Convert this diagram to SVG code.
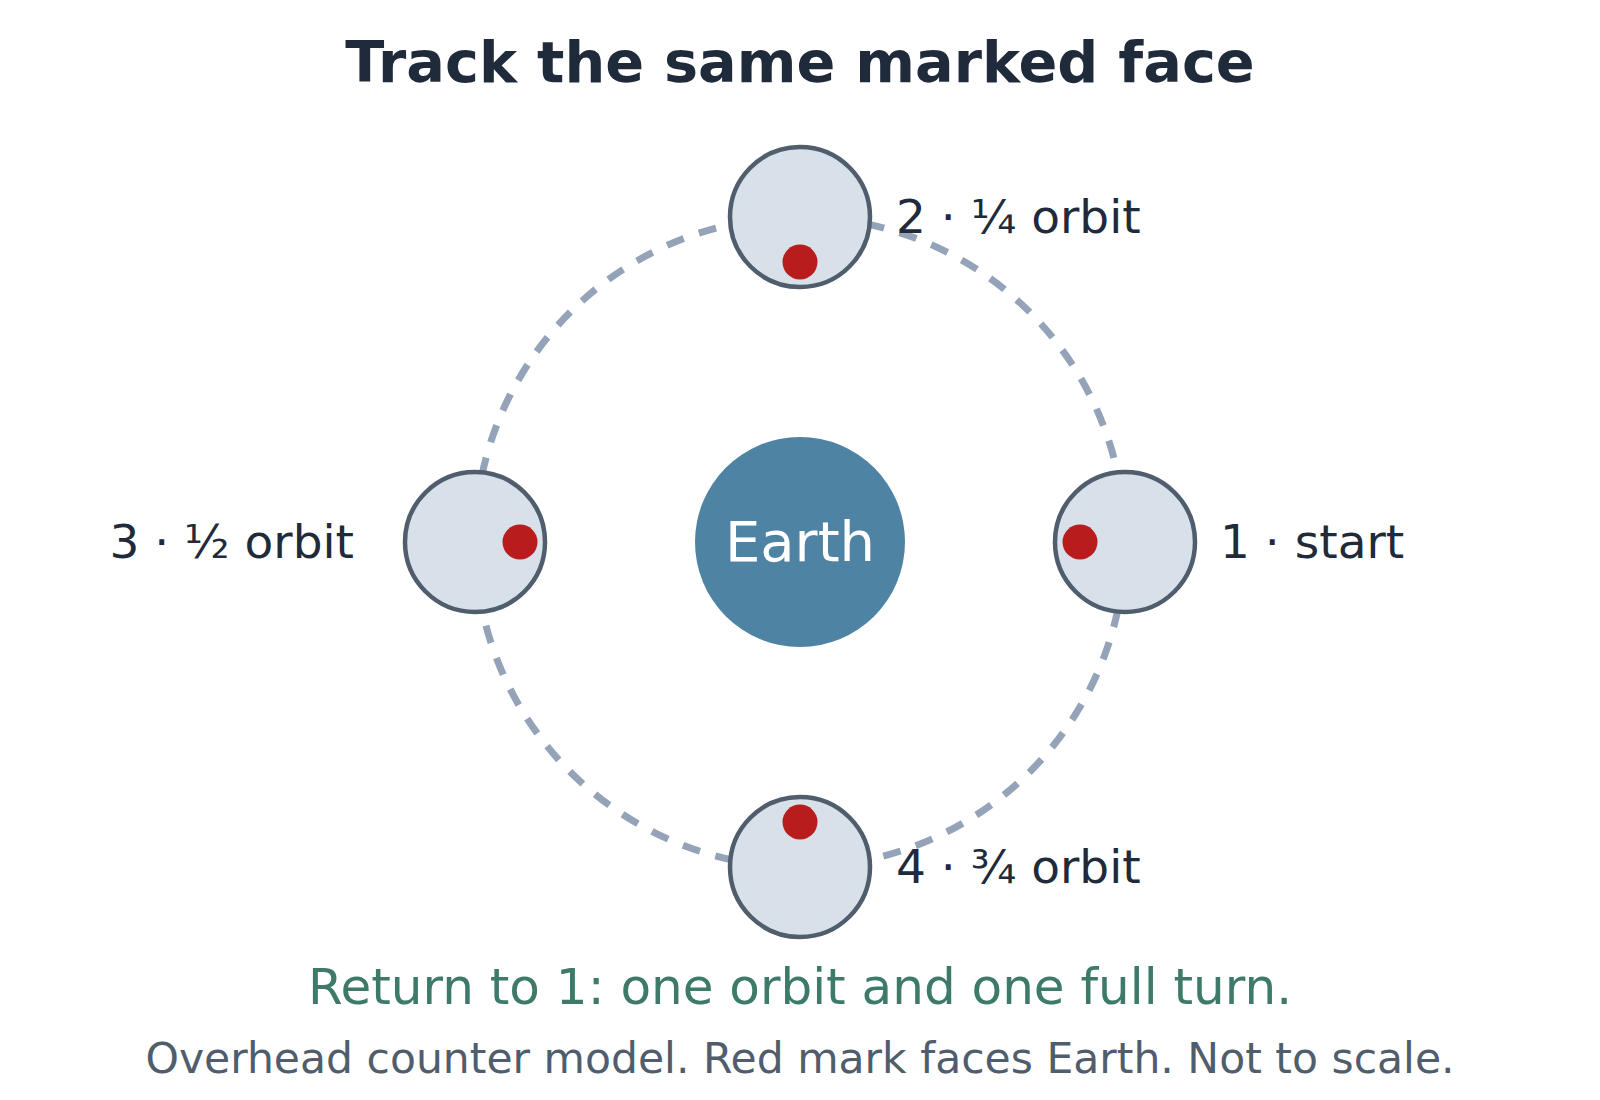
<svg xmlns="http://www.w3.org/2000/svg" width="1600" height="1100" viewBox="0 0 1600 1100">
<style>
.t{font-family:"DejaVu Sans",sans-serif}
.title{font-size:57.3px;font-weight:bold;fill:#1f2a3a}
.lbl{font-size:47px;fill:#1f2a3a}
.moon{fill:#d8e1e9;stroke:#4f5d6d;stroke-width:4.5}
.mark{fill:#b91c1c}
</style>
<rect width="1600" height="1100" fill="#ffffff"/>
<text class="t title" x="800" y="82" text-anchor="middle">Track the same marked face</text>
<g id="connectors">
<circle cx="800" cy="542" r="325" fill="none" stroke="#94a3b8" stroke-width="7" stroke-dasharray="18 16"/>
</g>
<g id="earth">
<circle cx="800" cy="542" r="105" fill="#4e83a3"/>
<text class="t" x="800" y="561" text-anchor="middle" font-size="56" fill="#ffffff">Earth</text>
</g>
<g id="moon1">
<circle class="moon" cx="1125" cy="542" r="70"/>
<circle class="mark" cx="1080" cy="542" r="17.5"/>
<text class="t lbl" x="1220" y="558">1 · start</text>
</g>
<g id="moon2">
<circle class="moon" cx="800" cy="217" r="70"/>
<circle class="mark" cx="800" cy="262" r="17.5"/>
<text class="t lbl" x="896" y="233">2 · ¼ orbit</text>
</g>
<g id="moon3">
<circle class="moon" cx="475" cy="542" r="70"/>
<circle class="mark" cx="520" cy="542" r="17.5"/>
<text class="t lbl" x="354" y="558" text-anchor="end">3 · ½ orbit</text>
</g>
<g id="moon4">
<circle class="moon" cx="800" cy="867" r="70"/>
<circle class="mark" cx="800" cy="822" r="17.5"/>
<text class="t lbl" x="896" y="883">4 · ¾ orbit</text>
</g>
<text class="t" x="800" y="1004" text-anchor="middle" font-size="50" fill="#3d7a6a">Return to 1: one orbit and one full turn.</text>
<text class="t" x="800" y="1073" text-anchor="middle" font-size="42.5" fill="#4f5d6d">Overhead counter model. Red mark faces Earth. Not to scale.</text>
</svg>
